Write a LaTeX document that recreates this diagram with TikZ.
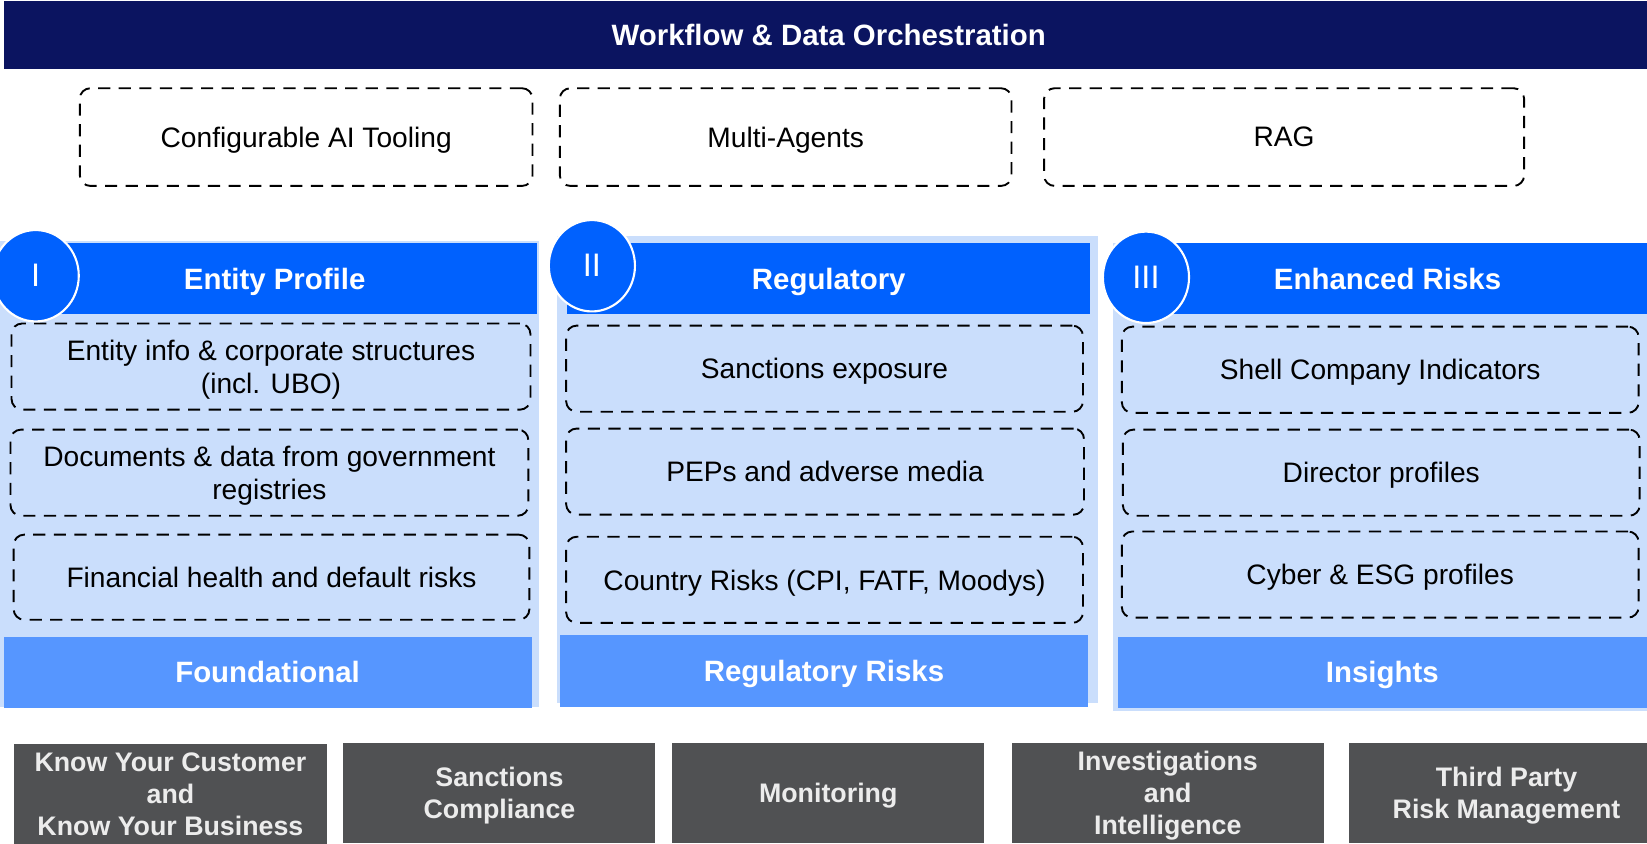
\documentclass[tikz,border=0pt]{standalone}
\usepackage{fontspec}
\setmainfont{Liberation Sans}
\usetikzlibrary{shapes.geometric}
\definecolor{navy}{RGB}{11,20,96}
\definecolor{hblue}{RGB}{0,97,254}
\definecolor{bblue}{RGB}{86,150,255}
\definecolor{lblue}{RGB}{202,222,252}
\definecolor{gbox}{RGB}{80,81,83}
\definecolor{gtext}{RGB}{236,236,236}
\newcommand\nodep[1]{\raisebox{0pt}[\height][0pt]{#1}}
\begin{document}
\begin{tikzpicture}[x=0.5pt,y=-0.5pt,
  sz/.style 2 args={minimum width=#1*0.5pt,minimum height=#2*0.5pt},
  nb/.style={inner sep=0pt, outer sep=0pt, align=center, text depth=0pt},
  ml/.style={text depth={}},
  titlebar/.style={nb, fill=navy, text=white, font=\fontsize{14}{17}\selectfont\bfseries},
  dbox/.style={nb, draw=black, line width=0.9pt, dash pattern=on 5.8pt off 4pt, rounded corners=5pt, font=\fontsize{13.4}{15.8}\selectfont},
  item/.style={dbox, fill=lblue},
  panelbg/.style={nb, fill=lblue},
  header/.style={nb, fill=hblue, text=white, font=\fontsize{14}{17}\selectfont\bfseries},
  footbar/.style={nb, fill=bblue, text=white, font=\fontsize{14}{17}\selectfont\bfseries},
  badge/.style={nb, ellipse, fill=hblue, draw=white, line width=1pt, text=white, minimum width=41pt, minimum height=43.5pt, font=\fontsize{15.5}{18}\selectfont},
  usecase/.style={nb, fill=gbox, text=gtext, font=\fontsize{12.75}{15.3}\selectfont\bfseries}
]
\useasboundingbox (0,0) rectangle (1568,803);

% top
\node[titlebar, sz={1570}{65}] (orch) at (789,33.5) {Workflow \& Data Orchestration};
\node[dbox, sz={431}{93}] (tool) at (291.5,130.5) {Configurable AI Tooling};
\node[dbox, sz={430}{93}] (agents) at (748,130.5) {Multi-Agents};
\node[dbox, sz={457}{93}] (rag) at (1222.5,130.5) {RAG};

% panel backgrounds
\node[panelbg, sz={513}{444}] (bg1) at (256.5,451) {};
\node[panelbg, sz={515}{444}] (bg2) at (787.5,447) {};
\node[panelbg, sz={508}{446}] (bg3) at (1314,454) {};

% headers
\node[header, sz={499}{68}] (h1) at (261.5,265) {Entity Profile};
\node[header, sz={498}{68}] (h2) at (789,265) {Regulatory};
\node[header, sz={494}{68}] (h3) at (1321,265) {Enhanced Risks};

% items
\node[item, ml, sz={494}{82}] (i11) at (258,349) {Entity info \& corporate structures\\\nodep{(incl. UBO)}};
\node[item, ml, sz={493}{82}] (i12) at (256.5,450) {Documents \& data from government\\\nodep{registries}};
\node[item, sz={491}{81}] (i13) at (258.5,549.5) {Financial health and default risks};

\node[item, sz={492}{82}] (i21) at (785,351) {Sanctions exposure};
\node[item, sz={493}{82}] (i22) at (785.5,449) {PEPs and adverse media};
\node[item, sz={492}{82}] (i23) at (785,552) {Country Risks (CPI, FATF, Moodys)};

\node[item, sz={492}{82}] (i31) at (1314,352) {Shell Company Indicators};
\node[item, sz={492}{82}] (i32) at (1315,450) {Director profiles};
\node[item, sz={492}{82}] (i33) at (1314,547) {Cyber \& ESG profiles};

% foot bars
\node[footbar, sz={502.5}{68}] (f1) at (254.75,640) {Foundational};
\node[footbar, sz={503}{68}] (f2) at (784.5,639) {Regulatory Risks};
\node[footbar, sz={504}{68}] (f3) at (1316,640) {Insights};

% badges
\node[badge] (c1) at (34,262.5) {I};
\node[badge] (c2) at (563.5,253) {II};
\node[badge] (c3) at (1091,264) {III};

% use cases
\node[usecase, ml, sz={297.5}{96}] (g1) at (162.25,756) {Know Your Customer\\and\\\nodep{Know Your Business}};
\node[usecase, ml, sz={297}{96}] (g2) at (475.5,755) {Sanctions\\\nodep{Compliance}};
\node[usecase, sz={297}{96}] (g3) at (788.5,755) {Monitoring};
\node[usecase, ml, sz={297.5}{96}] (g4) at (1111.75,755) {Investigations\\and\\\nodep{Intelligence}};
\node[usecase, ml, sz={299.5}{96}] (g5) at (1434.25,755) {Third Party\\\nodep{Risk Management}};
\end{tikzpicture}
\end{document}
